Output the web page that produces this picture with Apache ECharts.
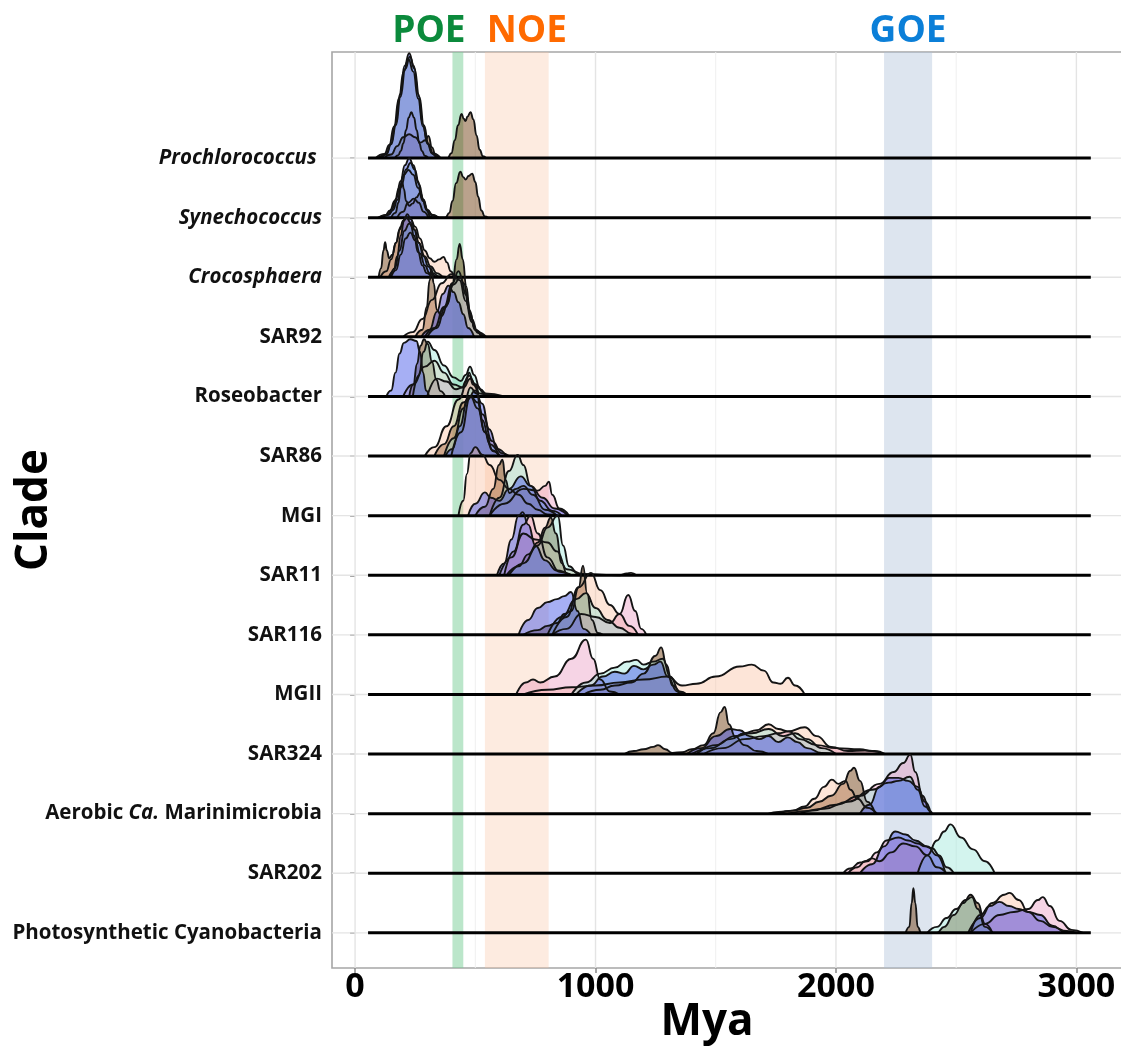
<!DOCTYPE html>
<html>
<head>
<meta charset="utf-8">
<script src="https://cdn.jsdelivr.net/npm/echarts@6/dist/echarts.min.js"></script>
<style>
html,body{margin:0;padding:0;background:#fff;}
#chart{width:1121px;height:1057px;}
</style>
</head>
<body>
<div id="chart"></div>
<script>
// ---------- categories & ticks ----------
const clades = ['Prochlorococcus ', 'Synechococcus', 'Crocosphaera', 'SAR92', 'Roseobacter', 'SAR86', 'MGI',
  'SAR11', 'SAR116', 'MGII', 'SAR324', 'Aerobic Ca. Marinimicrobia', 'SAR202', 'Photosynthetic Cyanobacteria'];
const italicClades = ['Prochlorococcus ', 'Synechococcus', 'Crocosphaera'];
const xTicks = [0, 1000, 2000, 3000];
const xGrid = [0, 500, 1000, 1500, 2000, 2500, 3000];
const eventNames = ['POE', 'NOE', 'GOE'];
const eventStart = [405, 540, 2200];
const eventEnd = [450, 805, 2400];
const baselineRange = [54, 3060];
const groupOrder = ['brown', 'peach', 'pink', 'cyan', 'blue'];

// ---------- density curves: [group, [[Mya, relative height], ...]] ----------
const prochlorococcus = [
  ['peach', [[85,0],[122,0.07],[142,0.22],[162,0.53],[182,1.0],[202,1.45],[222,1.66],[242,1.45],[262,1.0],[282,0.53],[302,0.25],[322,0.08],[355,0]]],
  ['cyan', [[95,0],[130,0.06],[150,0.23],[170,0.55],[189,1.03],[209,1.5],[228,1.7],[247,1.5],[267,1.03],[286,0.55],[306,0.23],[325,0.07],[355,0]]],
  ['brown', [[120,0],[150,0.06],[175,0.2],[200,0.35],[225,0.4],[250,0.35],[272,0.26],[292,0.3],[305,0.37],[320,0.18],[335,0.04],[350,0],[385,0],[400,0.08],[415,0.3],[428,0.55],[443,0.74],[452,0.66],[459,0.62],[468,0.7],[480,0.77],[492,0.65],[505,0.38],[518,0.14],[532,0.03],[545,0]]],
  ['blue', [[95,0],[111,0.02],[130,0.077],[149,0.24],[168,0.57],[187,1.07],[206,1.55],[225,1.76],[244,1.55],[263,1.07],[282,0.57],[301,0.24],[320,0.077],[339,0.02],[355,0]]],
  ['pink', [[165,0],[180,0.05],[190,0.12],[201,0.25],[212,0.47],[223,0.68],[234,0.77],[245,0.68],[256,0.47],[267,0.25],[278,0.12],[290,0.04],[305,0]]]
];
const synechococcus = [
  ['peach', [[95,0],[125,0.04],[145,0.12],[165,0.28],[183,0.5],[203,0.72],[222,0.8],[242,0.72],[262,0.5],[282,0.28],[302,0.12],[322,0.04],[350,0]]],
  ['cyan', [[110,0],[140,0.05],[158,0.13],[176,0.3],[194,0.56],[212,0.81],[230,0.92],[248,0.81],[266,0.56],[284,0.3],[302,0.13],[320,0.05],[345,0]]],
  ['blue', [[100,0],[135,0.05],[153,0.14],[171,0.32],[189,0.61],[207,0.88],[225,1.0],[243,0.88],[261,0.61],[279,0.32],[297,0.14],[315,0.05],[340,0]]],
  ['pink', [[175,0],[200,0.1],[220,0.25],[245,0.32],[265,0.25],[285,0.1],[305,0]]],
  ['brown', [[150,0],[168,0.08],[180,0.25],[190,0.5],[196,0.6],[203,0.48],[212,0.28],[225,0.2],[240,0.24],[255,0.34],[271,0.42],[285,0.3],[298,0.12],[312,0.02],[325,0],[375,0],[392,0.08],[405,0.28],[420,0.58],[438,0.77],[450,0.68],[460,0.64],[472,0.7],[487,0.74],[500,0.6],[512,0.35],[525,0.12],[540,0.02],[552,0]]]
];
const crocosphaera = [
  ['peach', [[105,0],[130,0.1],[150,0.3],[170,0.58],[190,0.85],[210,1.0],[230,0.98],[250,0.85],[270,0.65],[290,0.45],[310,0.32],[330,0.26],[350,0.3],[368,0.34],[382,0.25],[398,0.1],[415,0.02],[430,0]]],
  ['pink', [[150,0],[170,0.12],[190,0.38],[210,0.65],[230,0.75],[250,0.62],[270,0.4],[290,0.2],[310,0.07],[335,0]]],
  ['cyan', [[145,0],[165,0.15],[185,0.45],[205,0.78],[225,0.9],[245,0.8],[265,0.58],[290,0.35],[315,0.18],[340,0.07],[370,0.01],[385,0]]],
  ['blue', [[140,0],[160,0.1],[175,0.35],[190,0.7],[203,0.95],[217,1.06],[232,0.98],[248,0.8],[265,0.58],[285,0.35],[305,0.18],[325,0.07],[345,0.02],[360,0]]],
  ['brown', [[98,0],[108,0.15],[118,0.45],[125,0.59],[132,0.45],[142,0.32],[155,0.38],[170,0.58],[185,0.8],[200,0.95],[215,1.0],[230,0.92],[245,0.7],[262,0.42],[280,0.2],[298,0.07],[318,0]]]
];
const sar92 = [
  ['peach', [[200,0],[240,0.08],[280,0.3],[320,0.62],[360,0.9],[400,1.05],[435,0.95],[460,0.6],[485,0.25],[510,0.07],[540,0]]],
  ['pink', [[300,0],[340,0.15],[375,0.5],[410,0.88],[438,1.0],[462,0.7],[485,0.3],[510,0.08],[545,0]]],
  ['cyan', [[290,0],[330,0.15],[370,0.5],[405,0.9],[430,1.1],[452,0.9],[475,0.45],[500,0.12],[530,0]]],
  ['blue', [[275,0],[310,0.12],[340,0.42],[365,0.72],[388,0.86],[410,0.75],[430,0.58],[450,0.38],[470,0.15],[495,0]]],
  ['brown', [[250,0],[280,0.12],[298,0.5],[310,0.95],[318,1.14],[327,0.9],[340,0.45],[360,0.35],[385,0.55],[405,0.9],[422,1.3],[435,1.56],[448,1.3],[462,0.85],[478,0.4],[498,0.12],[525,0]]]
];
const roseobacter = [
  ['peach', [[200,0],[240,0.2],[290,0.5],[330,0.6],[370,0.4],[410,0.2],[450,0.15],[480,0.3],[500,0.2],[540,0.05],[620,0]]],
  ['pink', [[300,0],[340,0.3],[380,0.25],[420,0.12],[445,0.15],[460,0.25],[475,0.4],[490,0.2],[520,0.05],[560,0]]],
  ['cyan', [[240,0],[265,0.35],[285,0.75],[302,0.92],[330,0.78],[370,0.52],[410,0.32],[440,0.26],[460,0.36],[478,0.5],[495,0.36],[520,0.12],[550,0.03],[610,0]]],
  ['blue', [[130,0],[150,0.1],[168,0.4],[185,0.72],[203,0.9],[230,0.96],[255,0.93],[270,0.75],[283,0.4],[295,0.1],[308,0]]],
  ['brown', [[225,0],[242,0.2],[258,0.55],[272,0.85],[287,0.96],[302,0.88],[320,0.58],[338,0.28],[355,0.09],[375,0]]]
];
const sar86 = [
  ['peach', [[290,0],[330,0.15],[380,0.5],[430,0.95],[475,1.35],[500,1.2],[530,0.7],[570,0.25],[610,0.05],[640,0]]],
  ['pink', [[400,0],[440,0.4],[480,1.0],[510,0.9],[540,0.4],[575,0.08],[600,0]]],
  ['cyan', [[370,0],[410,0.3],[450,0.8],[480,1.15],[505,1.05],[530,0.6],[560,0.2],[600,0]]],
  ['brown', [[330,0],[370,0.2],[410,0.5],[450,0.9],[480,1.0],[510,0.8],[540,0.4],[570,0.1],[600,0]]],
  ['blue', [[375,0],[405,0.12],[435,0.5],[468,0.95],[500,1.1],[528,0.88],[558,0.45],[592,0.12],[628,0]]]
];
const mgi = [
  ['peach', [[430,0],[450,0.25],[465,0.7],[480,1.05],[500,1.15],[530,1.02],[560,0.85],[600,0.6],[640,0.45],[680,0.35],[720,0.2],[760,0.1],[800,0.02],[840,0]]],
  ['pink', [[560,0],[620,0.2],[700,0.45],[760,0.42],[790,0.5],[806,0.57],[820,0.35],[850,0.12],[890,0]]],
  ['cyan', [[560,0],[600,0.3],[640,0.75],[676,1.02],[700,0.85],[730,0.5],[770,0.25],[820,0.08],[860,0]]],
  ['blue', [[470,0],[500,0.2],[540,0.39],[565,0.3],[600,0.25],[640,0.45],[689,0.66],[730,0.5],[780,0.3],[830,0.12],[885,0]]],
  ['brown', [[500,0],[540,0.15],[575,0.45],[598,0.85],[613,0.94],[626,0.6],[642,0.38],[670,0.45],[700,0.5],[740,0.35],[790,0.1],[840,0]]]
];
const sar11 = [
  ['peach', [[600,0],[650,0.3],[700,0.7],[750,0.6],[800,0.55],[840,0.4],[880,0.1],[950,0.02],[1100,0],[1130,0.03],[1148,0.04],[1170,0]]],
  ['pink', [[620,0],[660,0.4],[700,0.85],[730,1.0],[760,0.7],[800,0.3],[850,0.06],[900,0]]],
  ['cyan', [[640,0],[700,0.2],[760,0.5],[800,0.8],[843,1.0],[865,0.5],[890,0.15],[930,0.02],[960,0]]],
  ['blue', [[590,0],[620,0.2],[650,0.6],[680,1.0],[697,1.06],[720,0.85],[750,0.5],[790,0.25],[840,0.08],[890,0]]],
  ['brown', [[630,0],[680,0.15],[720,0.35],[760,0.55],[790,0.8],[814,0.97],[835,0.7],[860,0.2],[880,0.03],[900,0]]]
];
const sar116 = [
  ['peach', [[820,0],[880,0.3],[930,0.8],[981,1.04],[1020,0.75],[1060,0.5],[1100,0.35],[1140,0.15],[1177,0]]],
  ['pink', [[820,0],[880,0.1],[940,0.35],[1000,0.3],[1060,0.2],[1100,0.35],[1136,0.67],[1165,0.4],[1190,0.1],[1211,0]]],
  ['cyan', [[800,0],[860,0.3],[920,0.6],[960,0.7],[1000,0.45],[1050,0.25],[1100,0.12],[1150,0.02],[1177,0]]],
  ['blue', [[680,0],[720,0.25],[760,0.45],[800,0.55],[840,0.6],[870,0.65],[898,0.72],[925,0.4],[950,0.1],[980,0]]],
  ['brown', [[700,0],[760,0.08],[800,0.15],[840,0.2],[870,0.35],[900,0.4],[930,0.8],[948,1.16],[965,0.7],[985,0.25],[1010,0.03],[1030,0]]]
];
const mgii = [
  ['peach', [[700,0],[800,0.08],[900,0.12],[1000,0.15],[1100,0.2],[1200,0.25],[1300,0.3],[1360,0.15],[1420,0.18],[1500,0.3],[1600,0.47],[1650,0.5],[1700,0.4],[1740,0.2],[1770,0.18],[1800,0.28],[1830,0.15],[1870,0]]],
  ['pink', [[670,0],[710,0.2],[740,0.25],[770,0.2],[830,0.3],[900,0.6],[960,0.92],[990,0.6],[1020,0.25],[1060,0.05],[1100,0]]],
  ['cyan', [[900,0],[960,0.2],[1020,0.35],[1080,0.45],[1130,0.55],[1170,0.58],[1200,0.5],[1240,0.55],[1280,0.6],[1310,0.3],[1350,0.05],[1380,0]]],
  ['blue', [[920,0],[980,0.15],[1030,0.3],[1080,0.38],[1120,0.35],[1160,0.48],[1200,0.42],[1240,0.5],[1270,0.55],[1300,0.3],[1340,0.05],[1370,0]]],
  ['brown', [[950,0],[1020,0.08],[1080,0.15],[1150,0.2],[1200,0.35],[1250,0.65],[1273,0.79],[1295,0.5],[1320,0.15],[1350,0]]]
];
const sar324 = [
  ['peach', [[1400,0],[1480,0.1],[1560,0.25],[1620,0.35],[1670,0.4],[1720,0.5],[1760,0.42],[1800,0.38],[1870,0.45],[1920,0.3],[1980,0.12],[2050,0.05],[2120,0.06],[2160,0.05],[2205,0]]],
  ['pink', [[1450,0],[1530,0.1],[1620,0.25],[1700,0.3],[1760,0.35],[1803,0.38],[1850,0.25],[1920,0.15],[2000,0.1],[2100,0.08],[2150,0.05],[2200,0]]],
  ['cyan', [[1420,0],[1500,0.15],[1580,0.3],[1650,0.35],[1720,0.42],[1780,0.3],[1830,0.35],[1880,0.25],[1940,0.1],[2000,0]]],
  ['blue', [[1380,0],[1440,0.1],[1500,0.3],[1560,0.42],[1600,0.4],[1640,0.3],[1680,0.25],[1720,0.3],[1760,0.2],[1800,0.28],[1840,0.2],[1880,0.1],[1940,0.02],[2000,0]]],
  ['brown', [[1120,0],[1160,0.05],[1200,0.08],[1240,0.12],[1260,0.15],[1290,0.08],[1320,0.02],[1360,0.03],[1400,0.08],[1450,0.15],[1490,0.35],[1520,0.7],[1537,0.79],[1555,0.5],[1580,0.3],[1620,0.15],[1670,0.05],[1720,0]]]
];
const marinimicrobia = [
  ['peach', [[1760,0],[1820,0.05],[1870,0.12],[1910,0.25],[1950,0.45],[1983,0.57],[2010,0.5],[2040,0.55],[2060,0.4],[2090,0.25],[2130,0.1],[2170,0]]],
  ['brown', [[1720,0],[1760,0.03],[1820,0.05],[1880,0.1],[1930,0.2],[1980,0.3],[2030,0.5],[2060,0.72],[2075,0.77],[2100,0.55],[2130,0.2],[2163,0]]],
  ['cyan', [[1850,0],[1950,0.08],[2050,0.2],[2150,0.4],[2220,0.52],[2260,0.55],[2307,0.62],[2340,0.4],[2370,0.12],[2395,0]]],
  ['blue', [[2100,0],[2140,0.15],[2180,0.45],[2221,0.6],[2260,0.6],[2300,0.55],[2340,0.45],[2370,0.2],[2395,0]]],
  ['pink', [[1800,0],[1900,0.05],[2000,0.15],[2100,0.3],[2180,0.5],[2240,0.7],[2280,0.85],[2309,0.99],[2330,0.7],[2360,0.3],[2390,0.05],[2400,0]]]
];
const sar202 = [
  ['pink', [[2030,0],[2060,0.08],[2100,0.18],[2130,0.2],[2170,0.35],[2210,0.55],[2260,0.6],[2300,0.55],[2340,0.5],[2370,0.45],[2400,0.42],[2430,0.3],[2460,0.1],[2490,0]]],
  ['peach', [[2050,0],[2090,0.1],[2120,0.2],[2150,0.25],[2180,0.2],[2230,0.35],[2280,0.5],[2330,0.45],[2380,0.3],[2420,0.1],[2460,0]]],
  ['blue', [[2100,0],[2150,0.15],[2200,0.45],[2246,0.7],[2290,0.65],[2330,0.55],[2380,0.45],[2420,0.3],[2455,0]]],
  ['cyan', [[2340,0],[2380,0.3],[2420,0.55],[2450,0.7],[2476,0.82],[2520,0.6],[2570,0.4],[2620,0.2],[2660,0]]]
];
const cyanobacteria = [
  ['cyan', [[2380,0],[2420,0.1],[2460,0.25],[2500,0.4],[2540,0.55],[2565,0.6],[2590,0.4],[2620,0.1],[2650,0]]],
  ['brown', [[2290,0],[2305,0.1],[2315,0.5],[2322,0.75],[2330,0.5],[2340,0.1],[2355,0],[2420,0],[2450,0.1],[2490,0.3],[2530,0.5],[2560,0.64],[2590,0.5],[2620,0.15],[2651,0]]],
  ['blue', [[2560,0],[2600,0.3],[2640,0.45],[2680,0.52],[2720,0.45],[2760,0.4],[2800,0.35],[2850,0.3],[2900,0.12],[2950,0.02],[2975,0]]],
  ['peach', [[2550,0],[2600,0.25],[2650,0.5],[2700,0.64],[2722,0.67],[2760,0.55],[2800,0.35],[2850,0.2],[2900,0.1],[2960,0.03],[3000,0]]],
  ['pink', [[2560,0],[2620,0.15],[2680,0.3],[2740,0.35],[2800,0.4],[2840,0.55],[2860,0.6],[2890,0.45],[2930,0.2],[2980,0.05],[3027,0]]]
];
const rows = [prochlorococcus, synechococcus, crocosphaera, sar92, roseobacter, sar86, mgi,
  sar11, sar116, mgii, sar324, marinimicrobia, sar202, cyanobacteria];

// ---------- styles ----------
const FONT = 'Open Sans';
const fills = {
  pink: 'rgba(230,130,180,0.34)',
  peach: 'rgba(250,180,140,0.34)',
  cyan: 'rgba(140,225,210,0.38)',
  blue: 'rgba(60,80,230,0.46)',
  brown: 'rgba(110,60,15,0.48)'
};
const bandColors = ['rgba(120,205,150,0.5)', 'rgba(250,195,160,0.33)', 'rgba(170,190,215,0.4)'];
const labelColors = ['#0b8a3c', '#ff6a00', '#0b7fd8'];
const labelOffsets = [[-29, 0], [10, 0], [0, 0]];

const X_MIN = -96, X_MAX = 3198, Y_MIN = 0.41, Y_MAX = 15.78;
const n = clades.length;
const series = [];

// background helper: event bands
series.push({
  type: 'line', data: [], silent: true, z: 1,
  markArea: {
    silent: true,
    data: eventNames.map((nm, i) => [
      { xAxis: eventStart[i], name: nm,
        itemStyle: { color: bandColors[i] },
        label: { show: true, position: 'top', distance: 2, offset: labelOffsets[i],
          color: labelColors[i], fontFamily: FONT, fontWeight: 'bold', fontSize: 37 } },
      { xAxis: eventEnd[i] }
    ])
  }
});
// vertical grid lines
xGrid.forEach(v => {
  series.push({
    type: 'line', silent: true, z: 1, symbol: 'none',
    data: [[v, Y_MIN], [v, Y_MAX]],
    lineStyle: { color: v % 1000 === 0 ? '#e4e4e4' : '#efefef', width: v % 1000 === 0 ? 1.4 : 1 }
  });
});
// horizontal grid lines
clades.forEach((c, i) => {
  series.push({
    type: 'line', silent: true, z: 1, symbol: 'none',
    data: [[X_MIN, n - i], [X_MAX, n - i]],
    lineStyle: { color: '#e4e4e4', width: 1.4 }
  });
});

rows.forEach((curves, i) => {
  const base = n - i;
  const ordered = curves.slice().sort((a, b) => groupOrder.indexOf(a[0]) - groupOrder.indexOf(b[0]));
  ordered.forEach(([grp, pts]) => {
    series.push({
      type: 'line', z: 2, silent: true, symbol: 'none',
      smooth: 0.5, smoothMonotone: 'x',
      data: pts.map(([x, h]) => [x, base + h]),
      lineStyle: { color: '#141414', width: 1.9 },
      areaStyle: { color: fills[grp], opacity: 1, origin: base }
    });
  });
  series.push({
    type: 'line', z: 2, silent: true, symbol: 'none',
    data: [[baselineRange[0], base], [baselineRange[1], base]],
    lineStyle: { color: '#000', width: 3 }
  });
});

function cladeLabel(v) {
  const name = clades[n - v];
  if (!name) return '';
  if (italicClades.indexOf(name) >= 0) return '{it|' + name + '}';
  if (name.indexOf('Ca.') >= 0) {
    const parts = name.split('Ca.');
    return '{b|' + parts[0] + '}{it|Ca.}{b|' + parts[1] + '}';
  }
  return '{b|' + name + '}';
}

const chart = echarts.init(document.getElementById('chart'), null, { renderer: 'canvas' });
chart.setOption({
  backgroundColor: '#ffffff',
  animation: false,
  grid: { left: 332, top: 52, right: -3, bottom: 89, outerBoundsMode: 'none', containLabel: false,
    show: true, borderColor: '#a6a6a6', borderWidth: 1.6, backgroundColor: 'transparent' },
  xAxis: {
    type: 'value', min: X_MIN, max: X_MAX,
    name: 'Mya', nameLocation: 'middle', nameGap: 32, nameMoveOverlap: false,
    nameTextStyle: { fontFamily: FONT, fontWeight: 'bold', fontSize: 44, color: '#000', padding: [0, 42, 0, 0] },
    axisLine: { show: false },
    axisTick: { show: true, customValues: xTicks, length: 5, lineStyle: { color: '#888', width: 1.5 } },
    axisLabel: { customValues: xTicks, formatter: v => String(v), fontFamily: FONT, fontWeight: 'bold', fontSize: 34, color: '#000', margin: 2 },
    splitLine: { show: false }
  },
  yAxis: {
    type: 'value', min: Y_MIN, max: Y_MAX,
    name: 'Clade', nameLocation: 'middle', nameGap: 276, nameRotate: 90, nameMoveOverlap: false,
    nameTextStyle: { fontFamily: FONT, fontWeight: 'bold', fontSize: 44, color: '#000' },
    axisLine: { show: false },
    axisTick: { show: true, customValues: clades.map((c, i) => n - i), length: 5, lineStyle: { color: '#888', width: 1.5 } },
    axisLabel: {
      customValues: clades.map((c, i) => n - i), margin: 10,
      formatter: cladeLabel,
      rich: {
        b: { fontFamily: FONT, fontWeight: 'bold', fontSize: 20.5, color: '#111' },
        it: { fontFamily: FONT, fontWeight: 'bold', fontStyle: 'italic', fontSize: 20.5, color: '#111' }
      }
    },
    splitLine: { show: false }
  },
  series: series
});
</script>
</body>
</html>
